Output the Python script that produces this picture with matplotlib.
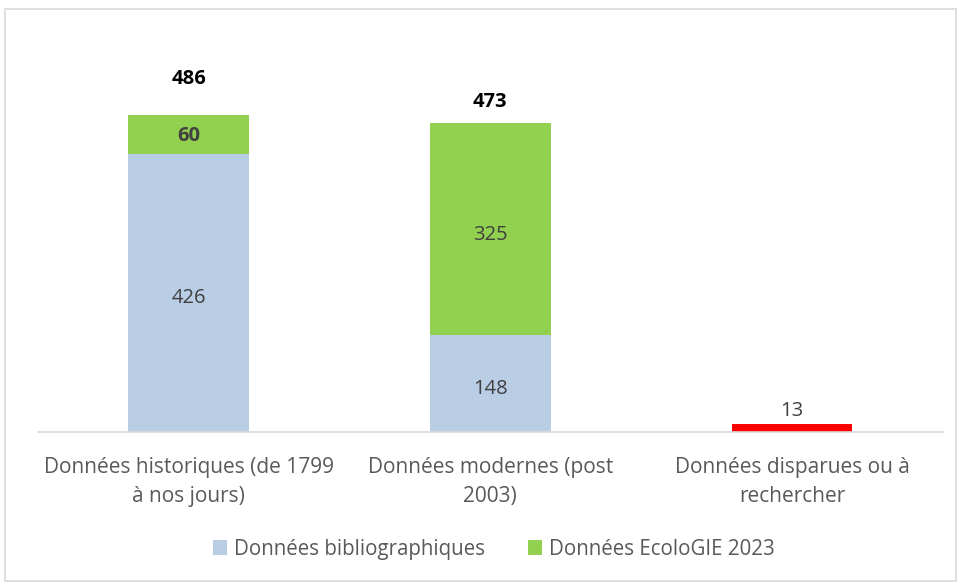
import numpy as np
import matplotlib.pyplot as plt

plt.rcParams['font.family'] = ['Open Sans', 'DejaVu Sans']

categories = ['Données historiques (de 1799\nà nos jours)',
              'Données modernes (post\n2003)',
              'Données disparues ou à\nrechercher']
biblio = [426, 148, 0]
ecologie = [60, 325, 0]
disparues = [0, 0, 13]
totals = [486, 473, None]

blue = '#b9cde5'
green = '#92d050'
red = '#ff0000'
txt = '#595959'

fig = plt.figure(figsize=(9.61, 5.83), dpi=100)
ax = fig.add_axes([0.0395, 0.259, 0.9415, 0.672])

x = np.arange(len(categories))
w = 0.4
b1 = ax.bar(x, biblio, w, color=blue, label='Données bibliographiques')
b2 = ax.bar(x, ecologie, w, bottom=biblio, color=green, label='Données EcoloGIE 2023')
b3 = ax.bar(x, disparues, w, color=red)

fs = 14.5
for i in range(len(x)):
    if biblio[i]:
        ax.annotate(str(biblio[i]), (x[i], biblio[i] / 2), xytext=(0, -4),
                    textcoords='offset points', ha='center', va='center',
                    fontsize=fs, color='#404040')
    if ecologie[i]:
        ax.annotate(str(ecologie[i]), (x[i], biblio[i] + ecologie[i] / 2),
                    xytext=(0, -4 if ecologie[i] > 100 else -1),
                    textcoords='offset points', ha='center', va='center',
                    fontsize=fs, color='#404040',
                    fontweight='bold' if ecologie[i] < 100 else 'normal')
    if disparues[i]:
        ax.annotate(str(disparues[i]), (x[i], disparues[i]), xytext=(0, 1.5),
                    textcoords='offset points', ha='center', va='bottom',
                    fontsize=fs, color='#404040')

# totals above stacked bars
offsets = [25.5, 15.5]
for i, t in enumerate(totals):
    if t is None:
        continue
    ax.annotate(str(t), (x[i], t), xytext=(0, offsets[i]), textcoords='offset points',
                ha='center', va='center', fontsize=fs, fontweight='bold', color='black')

ax.set_xlim(-0.5, 2.5)
ax.set_ylim(0, 600)
ax.set_xticks(x)
ax.set_xticklabels(categories, fontsize=15, color=txt, linespacing=1.5)
ax.tick_params(axis='x', length=0, pad=18)
ax.set_yticks([])
for s in ['top', 'right', 'left']:
    ax.spines[s].set_visible(False)
ax.spines['bottom'].set_color('#d9d9d9')
ax.spines['bottom'].set_linewidth(1.2)

leg = fig.legend(handles=[b1, b2], loc='center', bbox_to_anchor=(0.514, 0.058), ncol=2,
                 frameon=False, fontsize=14.8, handlelength=0.68, handleheight=0.68,
                 handletextpad=0.34, columnspacing=2.1)
for t in leg.get_texts():
    t.set_color(txt)

fig.patches.append(plt.Rectangle((0.005, 0.004), 0.99, 0.98, transform=fig.transFigure,
                                 fill=False, edgecolor='#d9d9d9', linewidth=1.2))

fig.savefig('out.png', dpi=100)
